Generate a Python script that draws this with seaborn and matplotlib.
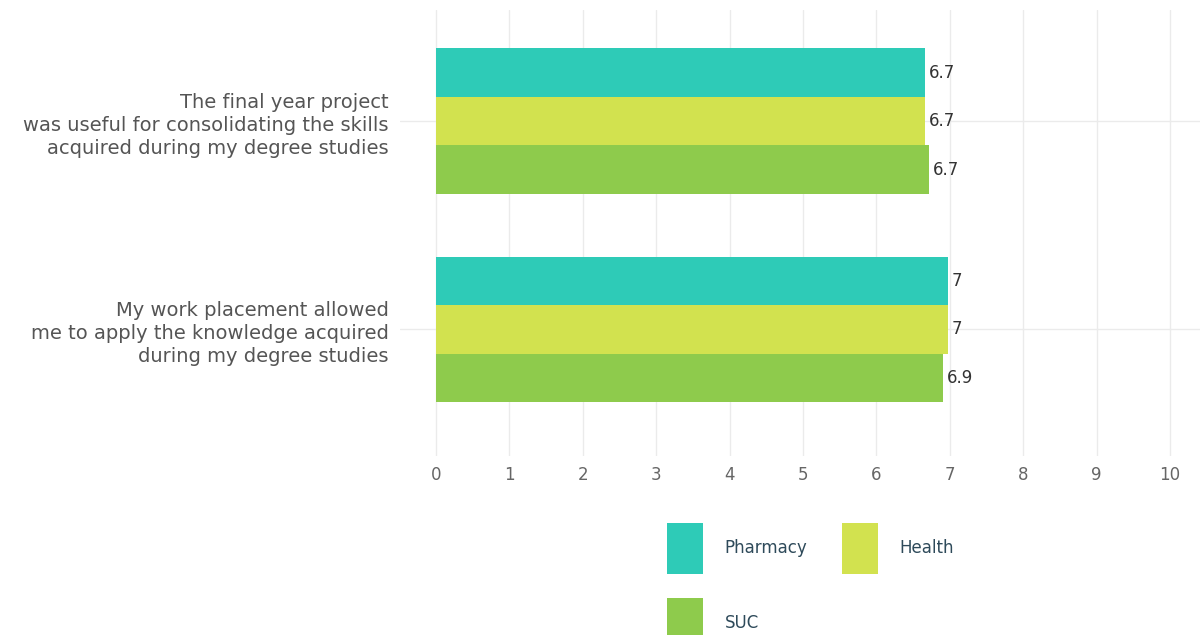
import matplotlib
matplotlib.use("Agg")
import matplotlib.pyplot as plt
import seaborn as sns
import pandas as pd
from matplotlib.patches import Patch

questions = [
    "The final year project\nwas useful for consolidating the skills\nacquired during my degree studies",
    "My work placement allowed\nme to apply the knowledge acquired\nduring my degree studies",
]
groups = ["Pharmacy", "Health", "SUC"]
pharmacy = [6.66, 6.97]
health = [6.66, 6.97]
suc = [6.72, 6.91]
colors = ["#2ECBB7", "#D2E24F", "#8ECB4C"]
xticks = [0, 1, 2, 3, 4, 5, 6, 7, 8, 9, 10]

rows = []
for g, vals in zip(groups, [pharmacy, health, suc]):
    for q, v in zip(questions, vals):
        rows.append({"question": q, "group": g, "value": v})
df = pd.DataFrame(rows)

sns.set_theme(style="white")
plt.rcParams["font.family"] = ["DejaVu Sans"]

fig = plt.figure(figsize=(12.03, 6.35), dpi=100)
ax = fig.add_axes([400 / 1203, 1 - 456 / 635, 800 / 1203, (456 - 10) / 635])

sns.barplot(data=df, y="question", x="value", hue="group", order=questions,
            hue_order=groups, palette=colors, orient="h", width=0.7,
            edgecolor="none", linewidth=0, ax=ax, legend=False, saturation=1)

for cont in ax.containers:
    labels = ["{:g}".format(round(b.get_width(), 1)) for b in cont]
    ax.bar_label(cont, labels=labels, padding=3, fontsize=12, color="#333333")

ax.set_xlim(-0.49, 10.41)
ax.set_ylim(1.608, -0.534)
ax.set_xticks(xticks)
ax.set_xticklabels([str(t) for t in xticks])
ax.grid(True, axis="both", color="#EBEBEB", linewidth=1)
ax.set_axisbelow(True)
for s in ax.spines.values():
    s.set_visible(False)
ax.tick_params(axis="x", length=0, pad=7, labelsize=12, labelcolor="#666666")
ax.tick_params(axis="y", length=0, pad=8, labelsize=14, labelcolor="#555555")
for t in ax.get_yticklabels():
    t.set_linespacing(1.28)
ax.set_xlabel("")
ax.set_ylabel("")

handles = {g: Patch(facecolor=c, edgecolor="none") for g, c in zip(groups, colors)}
order = ["Pharmacy", "SUC", "Health"]
leg = fig.legend([handles[g] for g in order], order, loc="upper left",
                 bbox_to_anchor=(667 / 1203, 1 - 523 / 635), ncol=2, frameon=False,
                 fontsize=12, handlelength=2.15, handleheight=4.35,
                 handletextpad=1.3, columnspacing=2.1, labelspacing=1.45,
                 borderpad=0, borderaxespad=0)
for t in leg.get_texts():
    t.set_color("#2E4A5A")

fig.savefig("out.png", dpi=100)
